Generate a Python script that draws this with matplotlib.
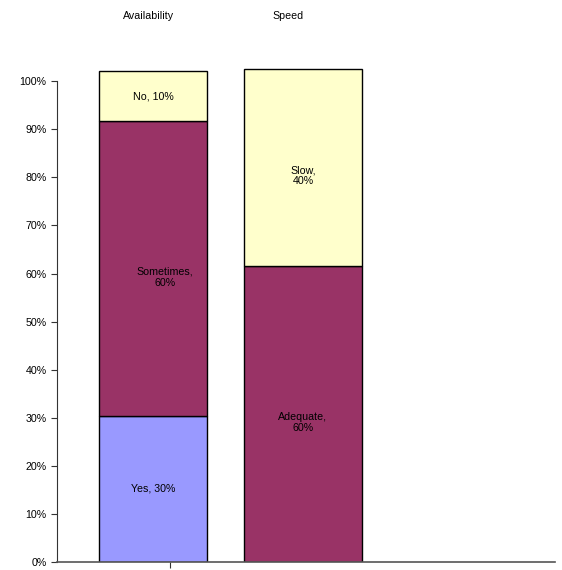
import matplotlib.pyplot as plt
from matplotlib.ticker import FuncFormatter
from matplotlib.transforms import blended_transform_factory

plt.rcParams['font.family'] = ['Liberation Sans', 'DejaVu Sans']

categories = ['Availability', 'Speed']
# each stack from bottom to top: (label, value in %, colour)
availability = [('Yes', 30.4, '#9999FF'), ('Sometimes', 61.3, '#993366'), ('No', 10.4, '#FFFFCC')]
speed = [('Adequate', 61.6, '#993366'), ('Slow', 41.0, '#FFFFCC')]
shown = {'Yes': 30, 'Sometimes': 60, 'No': 10, 'Adequate': 60, 'Slow': 40}
bar_widths = [0.72, 0.79]

fig = plt.figure(figsize=(5.62, 5.70), dpi=100)
ax = fig.add_axes([0.1014, 0.014, 0.886, 0.8807])
ax.set_xlim(-0.64, 2.68)
ax.set_ylim(0, 104.4)

# category names sit near the top of the figure
top_trans = blended_transform_factory(ax.transData, fig.transFigure)

for i, stack in enumerate([availability, speed]):
    bottom = 0
    for name, val, col in stack:
        ax.bar(i, val, bottom=bottom, width=bar_widths[i], color=col,
               edgecolor='black', linewidth=1.0)
        two = name in ('Sometimes', 'Adequate', 'Slow')
        sep = '\n' if two else ' '
        dx = 0.08 if name == 'Sometimes' else 0
        ax.text(i + dx, bottom + val / 2 - (1.8 if two else 0),
                f'{name},{sep}{shown[name]}%', ha='center', va='center',
                fontsize=7.7, color='black', linespacing=1.1)
        bottom += val
    ax.text(i - (0.03 if i == 0 else 0.1), 1 - 16 / 570, categories[i],
            transform=top_trans, ha='center', va='center', fontsize=7.7)

ax.set_yticks(range(0, 101, 10))
ax.yaxis.set_major_formatter(FuncFormatter(lambda v, p: f'{int(v)}%'))
ax.set_xticks([0.113])
ax.set_xticklabels([''])
ax.tick_params(axis='y', labelsize=7.7, length=4, width=0.8, color='#333333')
ax.tick_params(axis='x', length=4, width=0.8, color='#333333')
for s in ['top', 'right']:
    ax.spines[s].set_visible(False)
ax.spines['left'].set_bounds(0, 100)
ax.spines['left'].set_color('#333333')
ax.spines['bottom'].set_color('#555555')
ax.spines['bottom'].set_linewidth(1.2)

fig.savefig('out.png', dpi=100)
